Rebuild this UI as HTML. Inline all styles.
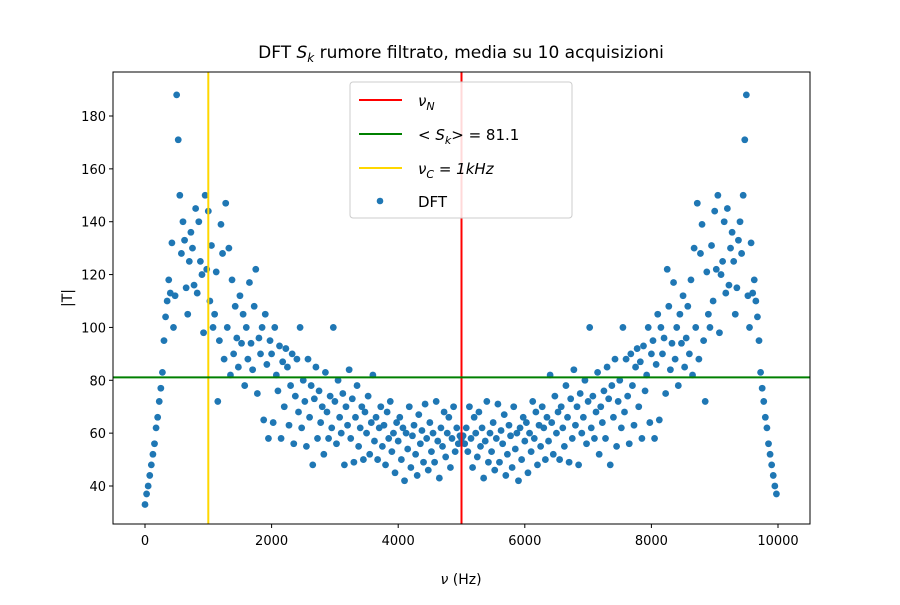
<!DOCTYPE html>
<html><head><meta charset="utf-8"><style>
body{margin:0;background:#fff;}
svg text{font-family:"DejaVu Sans","Liberation Sans",sans-serif;}
</style></head><body>
<svg id="chart" width="900" height="600" xmlns="http://www.w3.org/2000/svg">
<rect width="900" height="600" fill="#fff"/>
<text x="461" y="58" font-size="17" text-anchor="middle">DFT <tspan font-style="italic">S</tspan><tspan font-style="italic" font-size="12" dy="4">k</tspan><tspan dy="-4"> rumore filtrato, media su 10 acquisizioni</tspan></text>
<g id="plot"></g>
<text x="461" y="584" font-size="14" text-anchor="middle"><tspan font-style="italic">ν</tspan> (Hz)</text>
<text transform="translate(72,298) rotate(-90)" font-size="14" text-anchor="middle">|T|</text>
<g>
<rect x="350" y="82" width="222" height="136" rx="3" fill="#fff" fill-opacity="0.85" stroke="#ccc"/>
<line x1="359" y1="100" x2="402" y2="100" stroke="red" stroke-width="2"/>
<text x="418" y="106" font-size="15" font-style="italic">ν<tspan font-size="11" dy="4">N</tspan></text>
<line x1="359" y1="134" x2="402" y2="134" stroke="green" stroke-width="2"/>
<text x="418" y="140" font-size="15"><tspan font-style="italic">&lt; S</tspan><tspan font-size="11" dy="4" font-style="italic">k</tspan><tspan dy="-4" font-style="italic">&gt;</tspan> = 81.1</text>
<line x1="359" y1="168" x2="402" y2="168" stroke="gold" stroke-width="2"/>
<text x="418" y="174" font-size="15" font-style="italic">ν<tspan font-size="11" dy="4">C</tspan><tspan dy="-4"> = 1kHz</tspan></text>
<circle cx="380" cy="201" r="3.3" fill="#1f77b4"/>
<text x="418" y="207" font-size="15">DFT</text>
</g>
</svg>
<script>
const halfFreqStep = 25;
const halfValues = [
33,37,40,44,48,52,56,62,66,72,
77,83,95,104,110,118,113,132,100,112,
188,171,150,128,140,133,115,105,125,136,
130,116,145,113,140,125,120,98,150,122,
144,110,131,100,105,121,72,95,139,128,
88,147,100,130,82,118,90,108,96,85,
112,94,105,78,100,88,117,94,84,108,
122,75,96,90,100,65,105,86,58,95,
90,64,100,82,76,93,58,87,70,92,
85,63,78,90,56,74,88,68,100,62,
80,72,55,88,66,78,48,73,85,58,
76,64,70,52,83,68,58,74,62,100,
72,56,80,66,60,75,48,70,63,84,
58,73,49,66,78,55,62,70,50,68,
60,74,52,64,82,57,66,50,62,70,
55,63,48,68,58,72,53,60,45,64,
57,66,50,62,42,60,54,70,47,59,
63,52,44,67,56,61,49,71,58,46,
64,53,60,49,72,57,43,62,55,68,
51,60,66,47,58,70,53,62,56,59];
const centerValue = 58;
const xTicks = [0,2000,4000,6000,8000,10000];
const yTicks = [40,60,80,100,120,140,160,180];
const nyquist = 5000;
const cutoff = 1000;
const meanS = 81.1;

const L=113,R=810,T=72,B=524;
const X=v=>145+(v/10000)*(778-145);
const Y=v=>486-(v-40)/140*(486-116);
const ns="http://www.w3.org/2000/svg";
const g=document.getElementById('plot');
function mk(tag,attrs){const e=document.createElementNS(ns,tag);for(const k in attrs)e.setAttribute(k,attrs[k]);g.appendChild(e);return e;}

const freqs=[],vals=[];
halfValues.forEach((v,i)=>{freqs.push(i*halfFreqStep);vals.push(v);});
freqs.push(nyquist);vals.push(centerValue);
halfValues.forEach((v,i)=>{if(i>0){freqs.push(10000-i*halfFreqStep);vals.push(v);}});
freqs.forEach((f,i)=>{
  const c=mk('circle',{cx:X(f),cy:Y(vals[i]),r:3.4,fill:'#1f77b4'});
  
  
});
let l=mk('line',{x1:X(cutoff),x2:X(cutoff),y1:T,y2:B,stroke:'gold','stroke-width':2});


l=mk('line',{x1:X(nyquist),x2:X(nyquist),y1:T,y2:B,stroke:'red','stroke-width':2});


l=mk('line',{x1:L,x2:R,y1:Y(meanS),y2:Y(meanS),stroke:'green','stroke-width':2});


const fr=mk('rect',{x:L,y:T,width:R-L,height:B-T,fill:'none',stroke:'#000','stroke-width':1});


xTicks.forEach(t=>{
  mk('line',{x1:X(t),x2:X(t),y1:B,y2:B+4,stroke:'#000'});
  const tx=mk('text',{x:X(t),y:B+21,'font-size':13,'text-anchor':'middle'});tx.textContent=t;
  
  
});
yTicks.forEach(t=>{
  mk('line',{x1:L-4,x2:L,y1:Y(t),y2:Y(t),stroke:'#000'});
  const tx=mk('text',{x:L-7,y:Y(t)+5,'font-size':13,'text-anchor':'end'});tx.textContent=t;
  
  
});
</script>
</body></html>
